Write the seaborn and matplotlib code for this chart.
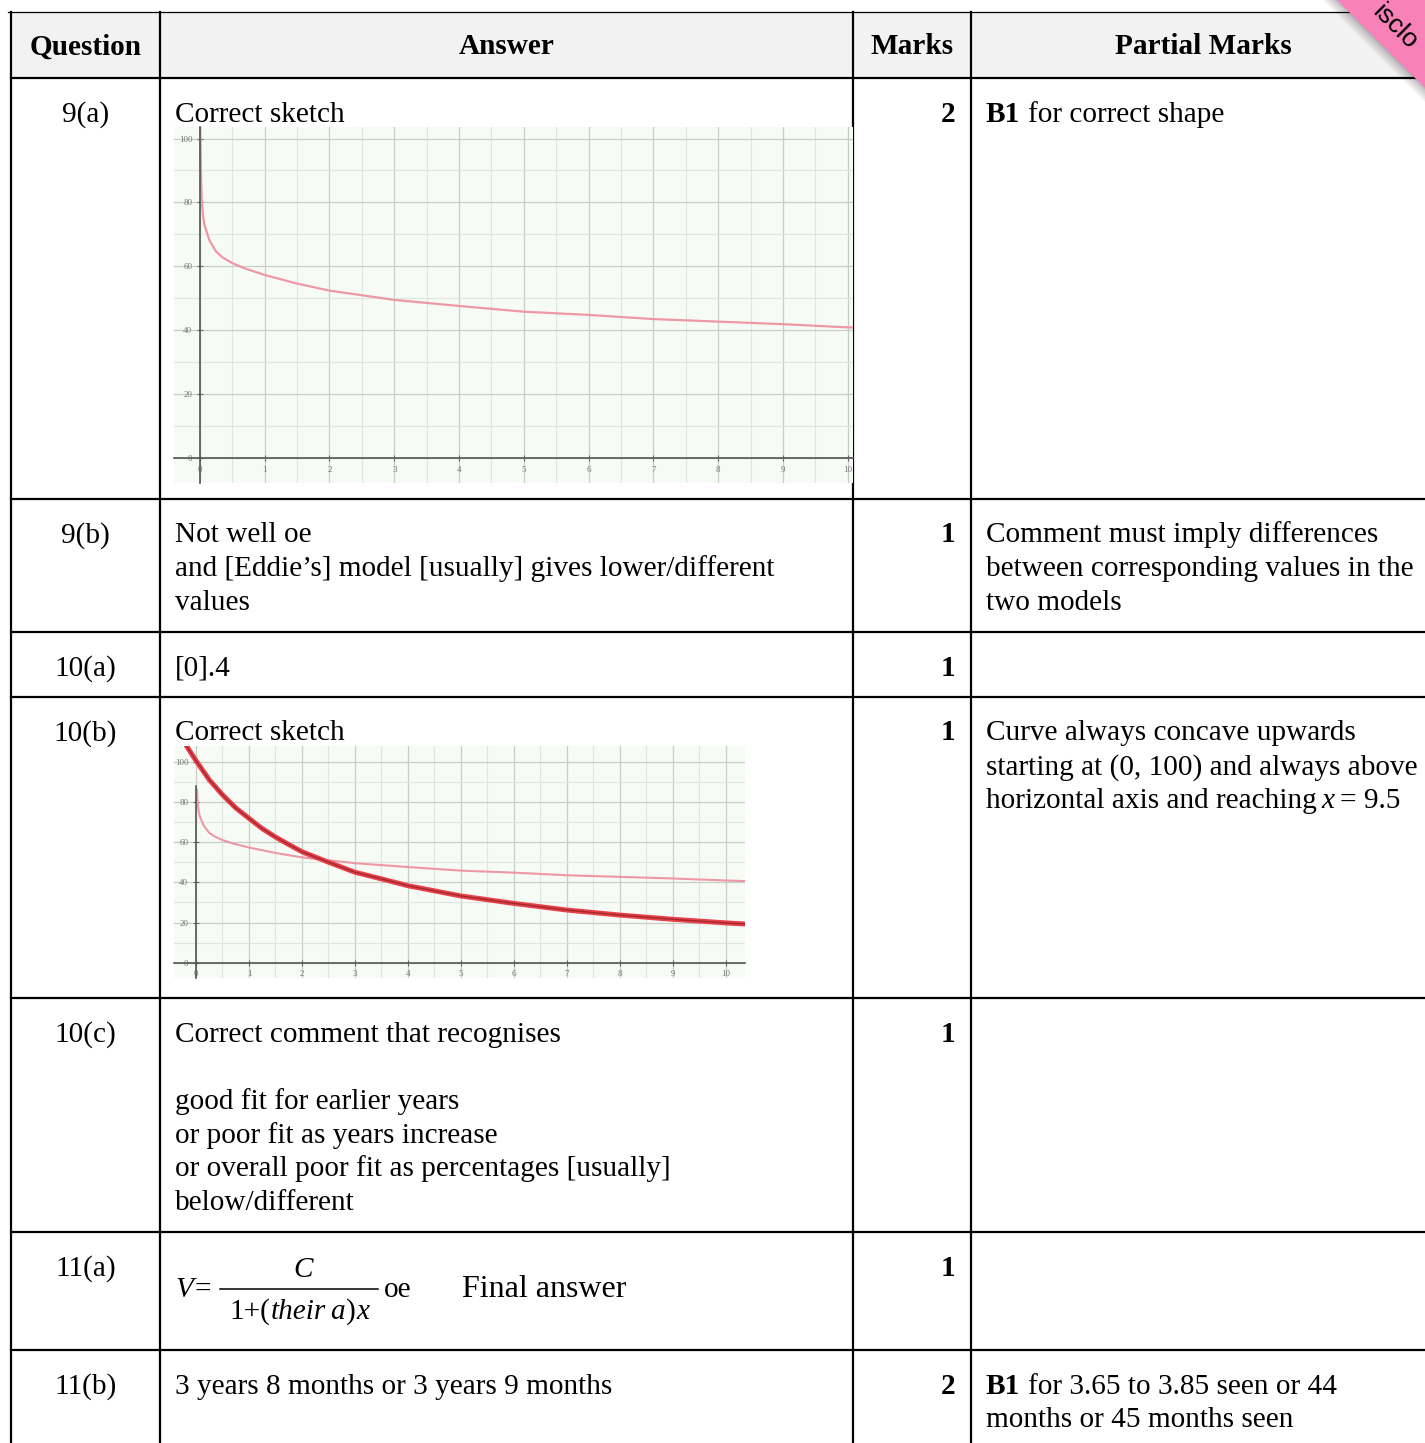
import numpy as np
import pandas as pd
import seaborn as sns
import matplotlib.pyplot as plt
from matplotlib.patches import Rectangle, Polygon

plt.rcParams['font.family'] = ['Liberation Serif', 'DejaVu Serif']

#%% DATA
# Eddie's model (years, percentage)
years_eddie = [0.003, 0.02, 0.03, 0.05, 0.07, 0.1, 0.15, 0.25, 0.35, 0.5, 0.7, 1, 1.5,
               2, 3, 4, 5, 6, 7, 8, 9, 10, 10.4]
pct_eddie = [104, 86, 80, 75.5, 73, 71, 68, 64.6, 62.8, 61, 59.3, 57.3, 54.6,
             52.4, 49.5, 47.6, 45.8, 44.8, 43.5, 42.7, 41.9, 40.9, 40.6]
# new model in 10(b)
years_model = [-0.2, 0, 0.25, 0.5, 0.75, 1, 1.25, 1.5, 1.75, 2, 2.5, 3, 3.5, 4, 5, 6, 7, 8, 9, 10, 10.4]
pct_model = [108.7, 100.5, 91, 83.5, 77, 71.8, 66.7, 62.5, 58.8, 55.2, 50, 45, 41.7, 38.3,
             33.2, 29.5, 26.2, 23.7, 21.6, 19.8, 19.2]

x_ticks = list(range(0, 11))
y_ticks = [0, 20, 40, 60, 80, 100]

headers = ['Question', 'Answer', 'Marks', 'Partial Marks']
questions = ['9(a)', '9(b)', '10(a)', '10(b)', '10(c)', '11(a)', '11(b)']
marks = ['2', '1', '1', '1', '1', '1', '2']
answers = [
    ['Correct sketch'],
    ['Not well oe', 'and [Eddie\u2019s] model [usually] gives lower/different', 'values'],
    ['[0].4'],
    ['Correct sketch'],
    ['Correct comment that recognises', '', 'good fit for earlier years',
     'or poor fit as years increase', 'or overall poor fit as percentages [usually]',
     'below/different'],
    [],
    ['3 years 8 months or 3 years 9 months'],
]

#%% layout (pixels)
W, H = 1425, 1443
FS = 21.1
LH = 33.7
TOP = 43.5  # first baseline below the row line
row_lines = [78, 499, 632, 697, 998, 1232, 1350]
col_lines = [11, 160, 853, 971]

fig = plt.figure(figsize=(W / 100, H / 100), dpi=100)
ax = fig.add_axes([0, 0, 1, 1])
ax.set_xlim(0, W)
ax.set_ylim(H, 0)
ax.axis('off')
renderer = fig.canvas.get_renderer()

# header band + grid lines
ax.add_patch(Rectangle((11, 12), W - 11, 66, facecolor='#f2f2f2', edgecolor='none', zorder=0))
ax.plot([8, W], [12, 12], color='k', lw=0.9)
for y in row_lines:
    ax.plot([11, W], [y, y], color='k', lw=1.6)
for x in col_lines:
    ax.plot([x, x], [12, H], color='k', lw=1.6)

hdr_x = [85.5, 506.5, 912, 1203]
for hx, h in zip(hdr_x, headers):
    ax.text(hx, 54.5, h, fontsize=FS, fontweight='bold', ha='center', va='baseline')


def runs(x, y, parts, size=FS, gap=7.3):
    # draw a line made of differently styled pieces; a 4th item overrides the gap after it
    for p in parts:
        s, w, st = p[:3]
        t = ax.text(x, y, s, fontsize=size, fontweight=w, fontstyle=st, ha='left', va='baseline')
        x += t.get_window_extent(renderer).width + (p[3] if len(p) > 3 else gap)
    return x


for i, (q, m, ans) in enumerate(zip(questions, marks, answers)):
    base = row_lines[i] + TOP
    ax.text(85.5, base, q, fontsize=FS, ha='center', va='baseline')
    ax.text(955, base, m, fontsize=FS, fontweight='bold', ha='right', va='baseline')
    for j, line in enumerate(ans):
        ax.text(175, base + j * LH, line, fontsize=FS, ha='left', va='baseline')

# partial marks column
b = row_lines[0] + TOP
runs(986, b, [('B1', 'bold', 'normal'), ('for correct shape', 'normal', 'normal')])
b = row_lines[1] + TOP
for j, line in enumerate(['Comment must imply differences', 'between corresponding values in the',
                          'two models']):
    ax.text(986, b + j * LH, line, fontsize=FS, ha='left', va='baseline')
b = row_lines[3] + TOP
for j, line in enumerate(['Curve always concave upwards', 'starting at (0, 100) and always above']):
    ax.text(986, b + j * LH, line, fontsize=FS, ha='left', va='baseline')
runs(986, b + 2 * LH, [('horizontal axis and reaching', 'normal', 'normal'),
                       ('x', 'normal', 'italic'), ('= 9.5', 'normal', 'normal')], gap=5)
b = row_lines[6] + TOP
runs(986, b, [('B1', 'bold', 'normal'), ('for 3.65 to 3.85 seen or 44', 'normal', 'normal')])
ax.text(986, b + LH, 'months or 45 months seen', fontsize=FS, ha='left', va='baseline')

# formula 11(a)
ax.text(175, 1297, 'V', fontsize=FS, fontstyle='italic', va='baseline')
ax.text(195, 1297, '=', fontsize=FS, va='baseline')
ax.plot([220, 378], [1289, 1289], color='k', lw=1.1)
ax.text(303, 1277, 'C', fontsize=FS, fontstyle='italic', ha='center', va='baseline')
runs(229, 1319, [('1+(', 'normal', 'normal', 0.5), ('their', 'normal', 'italic', 5),
                 ('a', 'normal', 'italic', 1), (')', 'normal', 'normal', 0.5),
                 ('x', 'normal', 'italic')])
ax.text(384, 1297, 'oe', fontsize=FS, va='baseline')
ax.text(462, 1297, 'Final answer', fontsize=23, va='baseline')

# pink corner ribbon
for k, a in enumerate([0.05, 0.05, 0.05, 0.06, 0.08]):
    off = 14 - k * 3
    ax.add_patch(Polygon([[1337 - off, 0], [W, W - 1337 + off], [W, 0]], closed=True,
                         facecolor='k', edgecolor='none', alpha=a, zorder=5))
ax.add_patch(Polygon([[1337, 0], [W, 88], [W, 0]], closed=True, facecolor='#f882b8',
                     edgecolor='none', zorder=6))
ax.text(1371, 13, 'isclo', fontsize=19, family='Liberation Sans', rotation=-45,
        rotation_mode='anchor', ha='left', va='baseline', zorder=7)


#%% the two sketch graphs
def sketch_axes(left, top, right, bottom, xlim, ylim):
    a = fig.add_axes([left / W, 1 - bottom / H, (right - left) / W, (bottom - top) / H])
    a.set_facecolor('#f7fbf6')
    a.set(xlim=xlim, ylim=ylim)
    a.set_xticks(x_ticks)
    a.set_xticks(np.arange(0.5, 10.5, 1), minor=True)
    a.set_yticks(y_ticks)
    a.set_yticks(np.arange(10, 110, 20), minor=True)
    a.grid(which='major', color='#c6cec6', lw=0.9, zorder=0)
    a.grid(which='minor', color='#dfe6df', lw=0.8, zorder=0)
    a.set_axisbelow(True)
    for s in ['top', 'right']:
        a.spines[s].set_visible(False)
    for s in ['left', 'bottom']:
        a.spines[s].set_position(('data', 0))
        a.spines[s].set_color('#555555')
        a.spines[s].set_linewidth(1.2)
    a.tick_params(which='major', direction='inout', length=5, width=0.8, colors='#666666',
                  labelsize=6.5, labelcolor='#777777', pad=3)
    a.tick_params(which='minor', length=0)
    return a


g1 = sketch_axes(174, 127, 853, 483, (-0.40, 10.08), (-7.8, 103.6))
sns.lineplot(x=years_eddie, y=pct_eddie, ax=g1, color='#ef98a5', lw=1.6, sort=False)

g2 = sketch_axes(174, 746, 745, 978, (-0.415, 10.36), (-7.6, 107.8))
g2.spines['left'].set_bounds(-7.6, 88)
sns.lineplot(x=years_eddie[1:], y=pct_eddie[1:], ax=g2, color='#ef98a5', lw=1.5, sort=False)
sns.lineplot(x=years_model, y=pct_model, ax=g2, color='#e8404c', lw=3.6, sort=False)
sns.lineplot(x=years_model, y=pct_model, ax=g2, color='#9e2a2a', lw=1.0, sort=False)
for g in (g1, g2):
    g.set_xlabel('')
    g.set_ylabel('')

fig.savefig('out.png', dpi=100, facecolor='white')
